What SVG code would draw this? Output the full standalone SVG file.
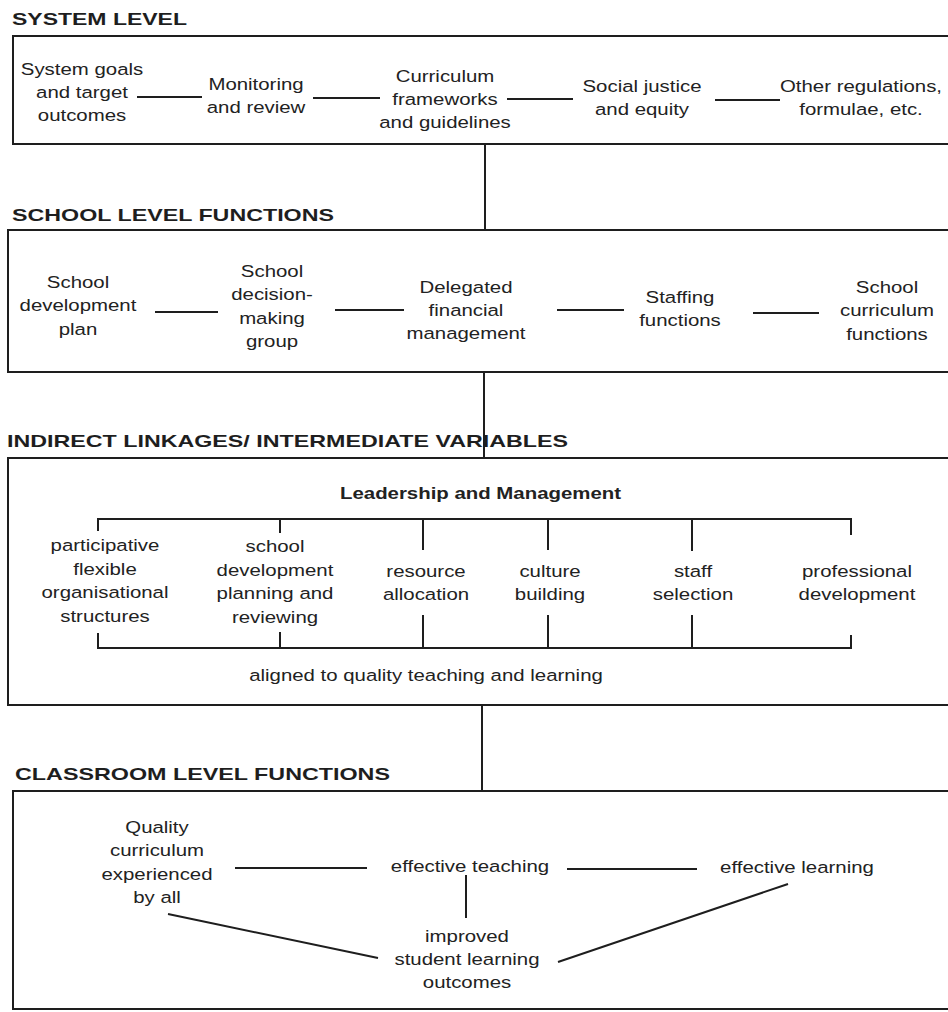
<svg xmlns="http://www.w3.org/2000/svg" width="948" height="1012" viewBox="0 0 948 1012">
<style>
  .bg{fill:#ffffff}
  .box{fill:none;stroke:#1e1e1e;stroke-width:2}
  .ln{fill:none;stroke:#1e1e1e;stroke-width:2;stroke-linecap:butt}
  .title{font-family:"Liberation Sans",Arial,sans-serif;font-size:17px;font-weight:bold;fill:#1e1e1e}
  .t{font-family:"Liberation Sans",Arial,sans-serif;font-size:17px;fill:#222222;text-anchor:middle}
  .tb{font-family:"Liberation Sans",Arial,sans-serif;font-size:17px;font-weight:bold;fill:#222222}
</style>
<rect class="bg" x="0" y="0" width="948" height="1012"/>

<!-- Section titles -->
<g id="titles">
  <text class="title" x="12" y="25" textLength="175" lengthAdjust="spacingAndGlyphs">SYSTEM LEVEL</text>
  <text class="title" x="12" y="221" textLength="322" lengthAdjust="spacingAndGlyphs">SCHOOL LEVEL FUNCTIONS</text>
  <text class="title" x="7" y="447" textLength="561" lengthAdjust="spacingAndGlyphs">INDIRECT LINKAGES/ INTERMEDIATE VARIABLES</text>
  <text class="title" x="15" y="780" textLength="375" lengthAdjust="spacingAndGlyphs">CLASSROOM LEVEL FUNCTIONS</text>
</g>

<!-- Level boxes -->
<g id="box-system"><rect class="box" x="13" y="36" width="960" height="108"/></g>
<g id="box-school"><rect class="box" x="8" y="230" width="965" height="142"/></g>
<g id="box-indirect"><rect class="box" x="8" y="458" width="965" height="247"/></g>
<g id="box-classroom"><rect class="box" x="13" y="791" width="960" height="218"/></g>

<!-- Connectors -->
<g id="connectors">
  <!-- between levels -->
  <line class="ln" x1="485" y1="144" x2="485" y2="230"/>
  <line class="ln" x1="484" y1="372" x2="484" y2="458"/>
  <line class="ln" x1="482" y1="705" x2="482" y2="791"/>
  <!-- system row -->
  <line class="ln" x1="137" y1="97" x2="202" y2="97"/>
  <line class="ln" x1="313" y1="98" x2="380" y2="98"/>
  <line class="ln" x1="507" y1="99" x2="573" y2="99"/>
  <line class="ln" x1="715" y1="100" x2="780" y2="100"/>
  <!-- school row -->
  <line class="ln" x1="155" y1="312" x2="218" y2="312"/>
  <line class="ln" x1="335" y1="310" x2="404" y2="310"/>
  <line class="ln" x1="557" y1="310" x2="624" y2="310"/>
  <line class="ln" x1="753" y1="313" x2="819" y2="313"/>
  <!-- leadership brackets -->
  <path class="ln" d="M98,531 V519 H851 V535"/>
  <line class="ln" x1="280" y1="519" x2="280" y2="533"/>
  <line class="ln" x1="423" y1="519" x2="423" y2="550"/>
  <line class="ln" x1="548" y1="519" x2="548" y2="550"/>
  <line class="ln" x1="692" y1="519" x2="692" y2="551"/>
  <path class="ln" d="M98,633 V648 H851 V635"/>
  <line class="ln" x1="280" y1="632" x2="280" y2="648"/>
  <line class="ln" x1="423" y1="615" x2="423" y2="648"/>
  <line class="ln" x1="548" y1="615" x2="548" y2="648"/>
  <line class="ln" x1="692" y1="615" x2="692" y2="648"/>
  <!-- classroom -->
  <line class="ln" x1="235" y1="868" x2="367" y2="868"/>
  <line class="ln" x1="567" y1="869" x2="697" y2="869"/>
  <line class="ln" x1="466" y1="875" x2="466" y2="918"/>
  <line class="ln" x1="168" y1="914" x2="378" y2="958"/>
  <line class="ln" x1="558" y1="962" x2="788" y2="884"/>
</g>

<!-- System level nodes -->
<g id="sys-goals" transform="translate(82,0) scale(1.2,1)"><text class="t"><tspan x="0" y="75">System goals</tspan><tspan x="0" y="98">and target</tspan><tspan x="0" y="121">outcomes</tspan></text></g>
<g id="sys-monitoring" transform="translate(256,0) scale(1.2,1)"><text class="t"><tspan x="0" y="90">Monitoring</tspan><tspan x="0" y="113">and review</tspan></text></g>
<g id="sys-curriculum" transform="translate(445,0) scale(1.2,1)"><text class="t"><tspan x="0" y="82">Curriculum</tspan><tspan x="0" y="105">frameworks</tspan><tspan x="0" y="128">and guidelines</tspan></text></g>
<g id="sys-equity" transform="translate(642,0) scale(1.2,1)"><text class="t"><tspan x="0" y="92">Social justice</tspan><tspan x="0" y="115">and equity</tspan></text></g>
<g id="sys-other" transform="translate(861,0) scale(1.2,1)"><text class="t"><tspan x="0" y="92">Other regulations,</tspan><tspan x="0" y="115">formulae, etc.</tspan></text></g>

<!-- School level nodes -->
<g id="sch-plan" transform="translate(78,0) scale(1.2,1)"><text class="t"><tspan x="0" y="288">School</tspan><tspan x="0" y="311.5">development</tspan><tspan x="0" y="335">plan</tspan></text></g>
<g id="sch-group" transform="translate(272,0) scale(1.2,1)"><text class="t"><tspan x="0" y="277">School</tspan><tspan x="0" y="300.5">decision-</tspan><tspan x="0" y="324">making</tspan><tspan x="0" y="347.5">group</tspan></text></g>
<g id="sch-finance" transform="translate(466,0) scale(1.2,1)"><text class="t"><tspan x="0" y="293">Delegated</tspan><tspan x="0" y="316">financial</tspan><tspan x="0" y="339">management</tspan></text></g>
<g id="sch-staffing" transform="translate(680,0) scale(1.2,1)"><text class="t"><tspan x="0" y="303">Staffing</tspan><tspan x="0" y="326.5">functions</tspan></text></g>
<g id="sch-curriculum" transform="translate(887,0) scale(1.2,1)"><text class="t"><tspan x="0" y="293">School</tspan><tspan x="0" y="316.5">curriculum</tspan><tspan x="0" y="340">functions</tspan></text></g>

<!-- Indirect linkages nodes -->
<g id="ind-leadership"><text class="tb" x="340" y="499" textLength="281" lengthAdjust="spacingAndGlyphs">Leadership and Management</text></g>
<g id="ind-structures" transform="translate(105,0) scale(1.2,1)"><text class="t"><tspan x="0" y="551">participative</tspan><tspan x="0" y="574.7">flexible</tspan><tspan x="0" y="598.4">organisational</tspan><tspan x="0" y="622">structures</tspan></text></g>
<g id="ind-planning" transform="translate(275,0) scale(1.2,1)"><text class="t"><tspan x="0" y="552">school</tspan><tspan x="0" y="575.7">development</tspan><tspan x="0" y="599.4">planning and</tspan><tspan x="0" y="623">reviewing</tspan></text></g>
<g id="ind-resource" transform="translate(426,0) scale(1.2,1)"><text class="t"><tspan x="0" y="577">resource</tspan><tspan x="0" y="600.5">allocation</tspan></text></g>
<g id="ind-culture" transform="translate(550,0) scale(1.2,1)"><text class="t"><tspan x="0" y="577">culture</tspan><tspan x="0" y="600.5">building</tspan></text></g>
<g id="ind-staff" transform="translate(693,0) scale(1.2,1)"><text class="t"><tspan x="0" y="577">staff</tspan><tspan x="0" y="600.5">selection</tspan></text></g>
<g id="ind-professional" transform="translate(857,0) scale(1.2,1)"><text class="t"><tspan x="0" y="577">professional</tspan><tspan x="0" y="600.5">development</tspan></text></g>
<g id="ind-aligned" transform="translate(426,0) scale(1.2,1)"><text class="t" x="0" y="681">aligned to quality teaching and learning</text></g>

<!-- Classroom level nodes -->
<g id="cl-curriculum" transform="translate(157,0) scale(1.2,1)"><text class="t"><tspan x="0" y="833">Quality</tspan><tspan x="0" y="856.5">curriculum</tspan><tspan x="0" y="880">experienced</tspan><tspan x="0" y="903.5">by all</tspan></text></g>
<g id="cl-teaching" transform="translate(470,0) scale(1.2,1)"><text class="t" x="0" y="872">effective teaching</text></g>
<g id="cl-learning" transform="translate(797,0) scale(1.2,1)"><text class="t" x="0" y="873">effective learning</text></g>
<g id="cl-outcomes" transform="translate(467,0) scale(1.2,1)"><text class="t"><tspan x="0" y="942">improved</tspan><tspan x="0" y="965">student learning</tspan><tspan x="0" y="988">outcomes</tspan></text></g>
</svg>
